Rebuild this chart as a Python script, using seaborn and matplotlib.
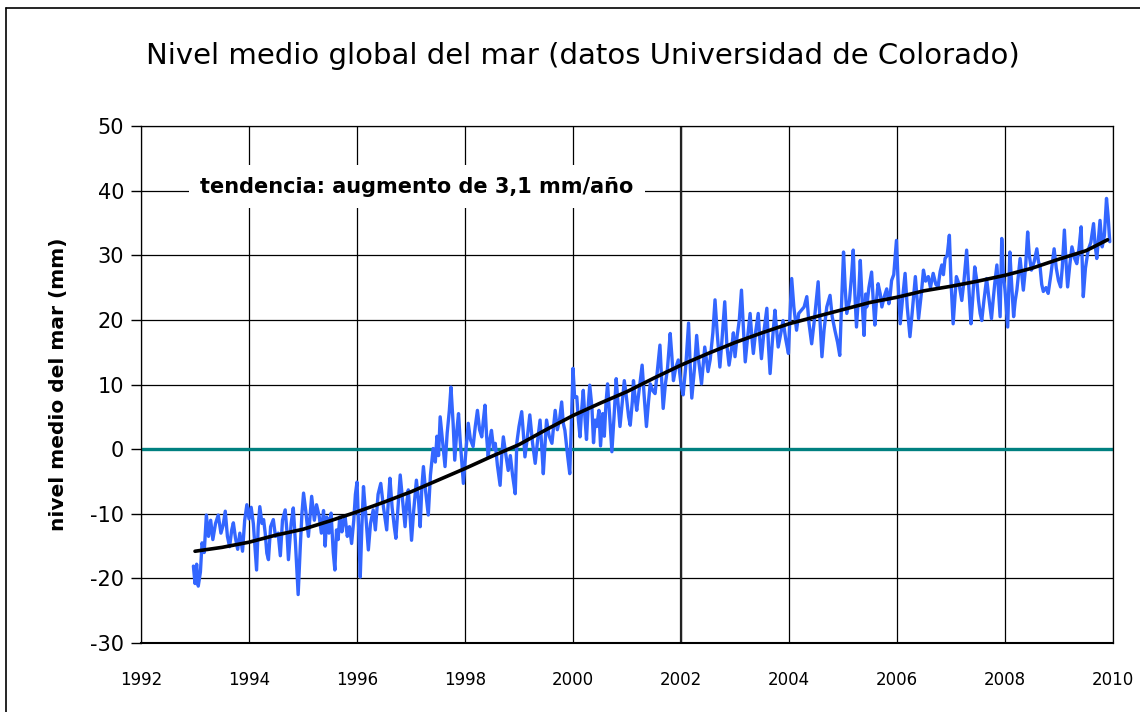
import pandas as pd
import numpy as np
import matplotlib.pyplot as plt
import seaborn as sns

# sea level readings (year, mm)
sea_years = [
    1992.97, 1993.00, 1993.03, 1993.06, 1993.10, 1993.13, 1993.17, 1993.21, 1993.25, 1993.29,
    1993.33, 1993.38, 1993.43, 1993.48, 1993.52, 1993.56, 1993.60, 1993.64, 1993.68, 1993.71,
    1993.75, 1993.79, 1993.83, 1993.88, 1993.92, 1993.96, 1994.00, 1994.04, 1994.08, 1994.11,
    1994.14, 1994.17, 1994.20, 1994.24, 1994.27, 1994.30, 1994.33, 1994.36, 1994.40, 1994.45,
    1994.49, 1994.54, 1994.58, 1994.62, 1994.67, 1994.70, 1994.73, 1994.78, 1994.82, 1994.86,
    1994.89, 1994.91, 1994.95, 1994.98, 1995.01, 1995.05, 1995.10, 1995.16, 1995.21, 1995.25,
    1995.30, 1995.34,
    1995.38, 1995.41, 1995.44, 1995.48, 1995.52, 1995.56, 1995.59, 1995.62, 1995.65, 1995.68,
    1995.72, 1995.75, 1995.78, 1995.82, 1995.86, 1995.90, 1995.94, 1995.97, 1996.00, 1996.03,
    1996.06, 1996.09, 1996.12, 1996.16, 1996.21, 1996.25, 1996.30, 1996.34, 1996.39, 1996.44,
    1996.49, 1996.55, 1996.58, 1996.61, 1996.65, 1996.69, 1996.72, 1996.76, 1996.80, 1996.84,
    1996.89, 1996.92, 1996.95, 1996.98, 1997.01, 1997.05, 1997.10, 1997.14, 1997.17, 1997.20,
    1997.23, 1997.27, 1997.32, 1997.36, 1997.41, 1997.45, 1997.48, 1997.51, 1997.54, 1997.58,
    1997.63, 1997.67, 1997.71, 1997.74, 1997.78, 1997.81, 1997.85, 1997.88,
    1997.91, 1997.94, 1997.97, 1998.01, 1998.06, 1998.10, 1998.15, 1998.19, 1998.23, 1998.27,
    1998.31, 1998.34, 1998.37, 1998.40, 1998.43, 1998.46, 1998.49, 1998.53, 1998.56, 1998.60,
    1998.65, 1998.68, 1998.71, 1998.75, 1998.80, 1998.84, 1998.88, 1998.93, 1998.96, 1999.00,
    1999.05, 1999.08, 1999.11, 1999.15, 1999.20, 1999.25, 1999.30, 1999.34, 1999.39, 1999.42,
    1999.45, 1999.48, 1999.51, 1999.56, 1999.61, 1999.64, 1999.67, 1999.71, 1999.75, 1999.79,
    1999.82, 1999.85, 1999.90, 1999.94, 1999.97, 2000.00, 2000.03, 2000.07, 2000.10, 2000.13,
    2000.16, 2000.19, 2000.22, 2000.25, 2000.28, 2000.31, 2000.35,
    2000.38, 2000.41, 2000.44, 2000.48, 2000.51, 2000.55, 2000.58, 2000.61, 2000.64, 2000.68,
    2000.72, 2000.76, 2000.80, 2000.83, 2000.87, 2000.91, 2000.95, 2000.99, 2001.03, 2001.06,
    2001.10, 2001.12, 2001.15, 2001.18, 2001.23, 2001.28, 2001.32, 2001.36, 2001.40, 2001.43,
    2001.48, 2001.52, 2001.56, 2001.61, 2001.64, 2001.67, 2001.71, 2001.75, 2001.80, 2001.83,
    2001.86, 2001.90, 2001.95, 2002.00, 2002.04, 2002.09, 2002.14, 2002.17, 2002.20, 2002.25,
    2002.29, 2002.33, 2002.38, 2002.41, 2002.44, 2002.50, 2002.54, 2002.59, 2002.63, 2002.67,
    2002.72, 2002.76, 2002.81, 2002.85,
    2002.89, 2002.94, 2002.97, 2003.00, 2003.04, 2003.08, 2003.12, 2003.16, 2003.19, 2003.23,
    2003.28, 2003.31, 2003.34, 2003.38, 2003.43, 2003.46, 2003.49, 2003.54, 2003.59, 2003.62,
    2003.65, 2003.69, 2003.74, 2003.77, 2003.80, 2003.85, 2003.89, 2003.94, 2003.99, 2004.02,
    2004.05, 2004.09, 2004.14, 2004.18, 2004.23, 2004.28, 2004.33, 2004.37, 2004.42, 2004.47,
    2004.54, 2004.57, 2004.61, 2004.65, 2004.70, 2004.76, 2004.80, 2004.85, 2004.90, 2004.94,
    2004.98, 2005.01, 2005.04, 2005.07, 2005.12, 2005.16, 2005.19, 2005.22, 2005.25, 2005.29,
    2005.32, 2005.36, 2005.39,
    2005.42, 2005.44, 2005.48, 2005.53, 2005.56, 2005.59, 2005.62, 2005.65, 2005.69, 2005.72,
    2005.76, 2005.81, 2005.85, 2005.87, 2005.90, 2005.94, 2005.99, 2006.02, 2006.06, 2006.10,
    2006.15, 2006.19, 2006.24, 2006.28, 2006.34, 2006.37, 2006.40, 2006.45, 2006.49, 2006.53,
    2006.58, 2006.62, 2006.67, 2006.72, 2006.76, 2006.80, 2006.83, 2006.86, 2006.89, 2006.93,
    2006.97, 2007.00, 2007.04, 2007.07, 2007.10, 2007.15, 2007.20, 2007.24, 2007.29, 2007.33,
    2007.37, 2007.40, 2007.44, 2007.48, 2007.51, 2007.54, 2007.57, 2007.61, 2007.66, 2007.70,
    2007.75, 2007.78, 2007.81, 2007.85,
    2007.91, 2007.94, 2007.97, 2008.00, 2008.05, 2008.09, 2008.12, 2008.16, 2008.19, 2008.22,
    2008.28, 2008.31, 2008.34, 2008.38, 2008.42, 2008.45, 2008.49, 2008.54, 2008.59, 2008.62,
    2008.65, 2008.68, 2008.71, 2008.76, 2008.80, 2008.85, 2008.91, 2008.95, 2008.99, 2009.03,
    2009.06, 2009.10, 2009.13, 2009.16, 2009.20, 2009.24, 2009.29, 2009.33, 2009.37, 2009.41,
    2009.45, 2009.49, 2009.54, 2009.59, 2009.64, 2009.67, 2009.70, 2009.73, 2009.76, 2009.80,
    2009.84, 2009.88, 2009.91, 2009.94,
]
sea_mm = [
    -18.1, -20.8, -17.8, -21.2, -19.0, -14.5, -16.0, -10.2, -13.5, -11.0,
    -14.0, -11.5, -10.2, -13.0, -11.8, -9.6, -13.5, -15.1, -12.5, -11.4,
    -13.8, -15.5, -13.0, -15.8, -11.0, -8.6, -10.8, -9.0, -11.5, -15.0,
    -18.7, -12.0, -8.9, -11.5, -10.9, -13.0, -16.1, -17.1, -12.0, -10.9,
    -13.5, -13.0, -16.5, -11.0, -9.4, -12.5, -17.1, -11.5, -9.1, -14.5,
    -19.5, -22.5, -15.0, -10.0, -6.8, -9.5, -13.5, -7.3, -11.0, -8.6,
    -10.4, -13.0,
    -9.5, -15.0, -10.5, -13.0, -9.9, -16.0, -18.7, -12.5, -14.0, -10.5,
    -12.8, -11.0, -10.5, -13.5, -12.0, -14.6, -11.0, -7.0, -5.1, -12.0,
    -19.8, -12.0, -5.8, -10.0, -15.6, -11.5, -9.4, -12.5, -7.0, -5.3,
    -9.0, -12.5, -8.0, -4.5, -9.0, -12.0, -13.8, -9.0, -4.0, -7.5,
    -12.0, -8.5, -6.3, -10.0, -14.1, -9.5, -4.8, -8.0, -12.0, -6.0,
    -2.7, -6.5, -10.2, -4.0, 0.1, -2.0, 2.0, -1.0, 5.0, 1.5,
    -2.7, 2.5, 6.0, 9.6, 4.0, -1.7, 3.0, 5.5,
    1.4, -2.0, -5.3, -1.0, 4.0, 1.5, 0.4, 3.5, 6.0, 3.0,
    1.9, 4.5, 6.8, 2.0, -1.2, 1.5, 2.9, 0.0, 0.9, -2.5,
    -5.6, -1.0, 1.9, -0.5, -3.3, -1.0, -4.0, -6.9, 1.0, 3.5,
    5.8, 2.5, -1.2, 1.5, 5.3, 1.0, -2.2, 1.0, 4.5, 0.5,
    -3.8, 0.5, 4.5, 2.0, 0.9, 3.5, 6.0, 3.0, 4.5, 7.3,
    4.0, 2.9, -1.0, -3.8, 4.0, 12.5, 8.0, 8.1, 4.5, 1.9,
    6.0, 9.1, 5.0, 1.5, 6.5, 9.9, 6.5,
    1.0, 4.5, 3.5, 6.0, 0.5, 5.5, 2.0, 7.0, 10.1, 5.0,
    -0.4, 5.0, 10.9, 7.5, 3.5, 7.0, 10.6, 8.0, 5.0, 3.7,
    7.5, 10.6, 8.0, 6.0, 9.5, 13.0, 8.0, 3.5, 7.5, 10.1,
    9.0, 8.6, 12.0, 16.1, 11.0, 6.3, 10.0, 12.5, 17.9, 14.5,
    10.6, 12.5, 13.8, 10.0, 8.4, 13.0, 19.5, 13.0, 7.9, 12.5,
    17.6, 13.5, 10.1, 13.0, 15.8, 12.0, 13.8, 18.0, 23.1, 18.0,
    12.7, 17.0, 22.8, 16.0,
    13.0, 15.8, 18.0, 14.3, 17.5, 20.0, 24.6, 18.0, 13.5, 17.0,
    21.0, 17.5, 14.8, 18.0, 21.0, 17.0, 14.0, 18.5, 21.8, 16.0,
    11.7, 16.5, 21.5, 18.5, 15.8, 18.0, 19.9, 17.0, 14.8, 21.0,
    26.4, 22.0, 18.4, 21.0, 21.5, 22.0, 23.6, 19.5, 16.3, 20.0,
    25.9, 20.5, 14.3, 18.5, 22.0, 23.8, 20.5, 18.4, 16.5, 14.5,
    24.0, 30.5, 25.0, 21.0, 23.0, 27.0, 30.8, 24.0, 18.9, 24.0,
    29.2, 22.0, 17.6,
    24.0, 22.0, 25.0, 27.4, 23.0, 19.2, 23.0, 25.6, 24.0, 22.0,
    23.5, 24.8, 22.5, 23.5, 26.1, 27.0, 32.3, 26.0, 19.4, 23.0,
    27.2, 22.0, 17.4, 21.0, 26.7, 23.5, 20.2, 24.0, 27.7, 26.0,
    26.7, 25.0, 27.2, 25.5, 25.1, 27.5, 28.5, 27.0, 29.5, 30.0,
    33.1, 26.0, 19.4, 23.0, 26.7, 25.5, 23.0, 26.0, 30.8, 25.0,
    19.4, 23.0, 28.2, 26.0, 23.0, 21.0, 19.9, 23.0, 26.4, 23.5,
    20.2, 23.0, 25.6, 28.5,
    20.5, 32.6, 27.0, 24.6, 18.9, 30.5, 26.0, 20.5, 23.0, 24.6,
    29.5, 27.0, 24.6, 28.0, 33.6, 30.0, 27.7, 29.0, 31.0, 29.0,
    28.2, 25.5, 24.4, 25.0, 24.1, 27.0, 31.0, 28.0, 26.1, 25.1,
    28.0, 33.9, 29.0, 25.1, 28.5, 31.3, 29.5, 28.7, 31.0, 34.4,
    23.6, 28.0, 30.8, 32.0, 34.9, 31.5, 29.5, 32.5, 35.4, 31.3,
    33.0, 38.8, 36.0, 32.1,
]

# smoothed trend (black line)
trend_years = [1993.0, 1993.5, 1994.0, 1994.5, 1995.0, 1995.5, 1996.0, 1996.5, 1997.0, 1997.5,
               1998.0, 1998.5, 1999.0, 1999.5, 2000.0, 2000.5, 2001.0, 2001.5, 2002.0, 2002.5,
               2003.0, 2003.5, 2004.0, 2004.5, 2005.0, 2005.5, 2006.0, 2006.5, 2007.0, 2007.5,
               2008.0, 2008.5, 2009.0, 2009.5, 2009.9]
trend_mm = [-15.8, -15.2, -14.4, -13.3, -12.4, -11.1, -9.7, -8.2, -6.6, -4.8,
            -3.0, -1.1, 0.7, 3.0, 5.2, 7.1, 8.9, 11.0, 13.0, 14.8,
            16.5, 18.0, 19.4, 20.5, 21.6, 22.7, 23.5, 24.5, 25.2, 26.0,
            26.9, 28.0, 29.4, 30.7, 32.4]

x_ticks = list(range(1992, 2011, 2))
y_ticks = list(range(-30, 51, 10))
axis_cross_year = 2002

title = "Nivel medio global del mar (datos Universidad de Colorado)"
ylabel = "nivel medio del mar (mm)"
note = "tendencia: augmento de 3,1 mm/año"

sea = pd.DataFrame({"year": sea_years, "mm": sea_mm})
trend = pd.DataFrame({"year": trend_years, "mm": trend_mm})

sns.set_style("white")
plt.rcParams["font.family"] = ["DejaVu Sans"]
plt.rcParams["axes.unicode_minus"] = False
plt.rcParams["text.color"] = "black"
plt.rcParams["axes.labelcolor"] = "black"
plt.rcParams["xtick.color"] = "black"
plt.rcParams["ytick.color"] = "black"

fig = plt.figure(figsize=(11.4, 7.12), dpi=100)
ax = fig.add_axes([0.1237, 0.0969, 0.8526, 0.7261])

ax.grid(True, color="black", linewidth=0.9)
ax.set_axisbelow(True)
ax.axvline(axis_cross_year, color="#222222", linewidth=1.6, zorder=1)
ax.axhline(0, color="#008080", linewidth=2.4, zorder=2)

sns.lineplot(data=sea, x="year", y="mm", ax=ax, color="#3366FF",
             linewidth=2.4, sort=False, estimator=None, zorder=3)
sns.lineplot(data=trend, x="year", y="mm", ax=ax, color="black",
             linewidth=2.6, sort=False, estimator=None, zorder=4)

ax.set_xlim(1992, 2010)
ax.set_ylim(-30, 50)
ax.set_xticks(x_ticks)
ax.set_yticks(y_ticks)
ax.tick_params(axis="x", length=0, pad=20, labelsize=12, labelcolor="black")
ax.tick_params(axis="y", length=7, width=1, color="black", pad=5, labelsize=15,
               left=True, labelcolor="black")
ax.set_xlabel("")
ax.set_ylabel(ylabel, fontsize=14.5, fontweight="bold", labelpad=16, color="black")

for s in ax.spines.values():
    s.set_color("black")
    s.set_linewidth(0.9)
ax.spines["bottom"].set_linewidth(1.5)

ax.text(0.061, 0.883, note, transform=ax.transAxes, fontsize=15, fontweight="bold",
        ha="left", va="center", zorder=5, color="black",
        bbox=dict(facecolor="white", edgecolor="none", pad=8))

fig.text(0.511, 0.921, title, ha="center", va="center", fontsize=21, color="black")

# outer frame
fig.add_artist(plt.Line2D([0.005, 0.005], [0.0, 0.989], color="black", linewidth=1.2,
                          transform=fig.transFigure))
fig.add_artist(plt.Line2D([0.005, 1.0], [0.989, 0.989], color="black", linewidth=1.2,
                          transform=fig.transFigure))

plt.savefig("out.png", dpi=100)
